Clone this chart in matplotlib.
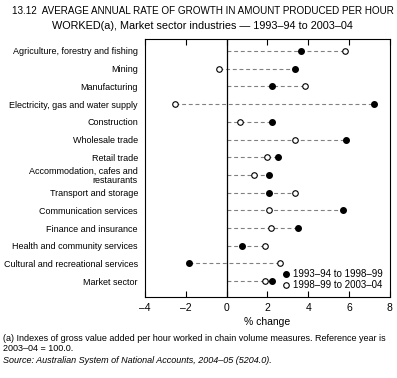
#!/usr/bin/env python3

#
# Average annual rate of growth in amount produced per hour worked
#

import matplotlib as mpl

mpl.use('Agg')
import matplotlib.pyplot as plt

# data
industries = [
    'Agriculture, forestry and fishing',
    'Mining',
    'Manufacturing',
    'Electricity, gas and water supply',
    'Construction',
    'Wholesale trade',
    'Retail trade',
    'Accommodation, cafes and\nrestaurants',
    'Transport and storage',
    'Communication services',
    'Finance and insurance',
    'Health and community services',
    'Cultural and recreational services',
    'Market sector',
]
growth_9399 = [3.65, 3.35, 2.25, 7.2, 2.25, 5.85, 2.5, 2.1, 2.1, 5.7, 3.5, 0.75, -1.85, 2.25]
growth_9904 = [5.8, -0.35, 3.85, -2.55, 0.65, 3.35, 2.0, 1.35, 3.35, 2.1, 2.2, 1.9, 2.6, 1.9]
series_labels = ['1993\u201394 to 1998\u201399', '1998\u201399 to 2003\u201304']
x_ticks = [-4, -2, 0, 2, 4, 6, 8]

# font
plt.rcParams['font.family'] = ['Liberation Sans', 'DejaVu Sans']
plt.rcParams['font.size'] = 7
plt.rcParams['axes.unicode_minus'] = False

figure = plt.figure(figsize=(3.97, 3.78), dpi=100)
ax = figure.add_axes([0.365, 0.214, 0.617, 0.683])

rows = list(range(len(industries)))
for y, a, b in zip(rows, growth_9399, growth_9904):
    lo, hi = min(0, a, b), max(0, a, b)
    ax.plot([lo, hi], [y, y], linestyle=(0, (3.5, 2.5)), color='#808080', linewidth=0.8, zorder=1)

ax.plot(growth_9399, rows, linestyle='none', marker='o', markersize=4,
        markerfacecolor='black', markeredgecolor='black', label=series_labels[0], zorder=3)
ax.plot(growth_9904, rows, linestyle='none', marker='o', markersize=4,
        markerfacecolor='white', markeredgecolor='black', markeredgewidth=0.8,
        label=series_labels[1], zorder=3)

ax.axvline(0, color='black', linewidth=0.9, zorder=2)

ax.set_xlim(-4, 8)
ax.set_ylim(13.9, -0.68)
ax.set_xticks(x_ticks)
ax.set_xticklabels([str(t).replace('-', '\u2013') for t in x_ticks], fontsize=7.5)
ax.set_yticks(rows)
ax.set_yticklabels(industries, fontsize=6.5, linespacing=1.0)
ax.tick_params(axis='y', length=0, pad=5)
ax.tick_params(axis='x', direction='in', length=4.3, width=0.8, top=True, pad=4)
for spine in ax.spines.values():
    spine.set_linewidth(0.8)
ax.set_xlabel('% change', fontsize=7.5, labelpad=3)

ax.legend(loc='lower right', bbox_to_anchor=(1.0, 0.0), frameon=False, fontsize=7,
          handlelength=0.8, handletextpad=0.4, borderaxespad=0.3, labelspacing=0.1)

# title and notes
figure.text(0.03, 0.985, '13.12  AVERAGE ANNUAL RATE OF GROWTH IN AMOUNT PRODUCED PER HOUR',
            fontsize=7.1, va='top', ha='left')
figure.text(0.13, 0.945, 'WORKED(a), Market sector industries \u2014 1993\u201394 to 2003\u201304',
            fontsize=7.8, va='top', ha='left')
figure.text(0.008, 0.116,
            '(a) Indexes of gross value added per hour worked in chain volume measures. Reference year is\n'
            '2003\u201304 = 100.0.', fontsize=6.5, va='top', ha='left', linespacing=1.05)
figure.text(0.008, 0.058, 'Source: Australian System of National Accounts, 2004\u201305 (5204.0).',
            fontsize=6.5, va='top', ha='left', style='italic')

figure.savefig('out.png', dpi=100)
plt.close(figure)
